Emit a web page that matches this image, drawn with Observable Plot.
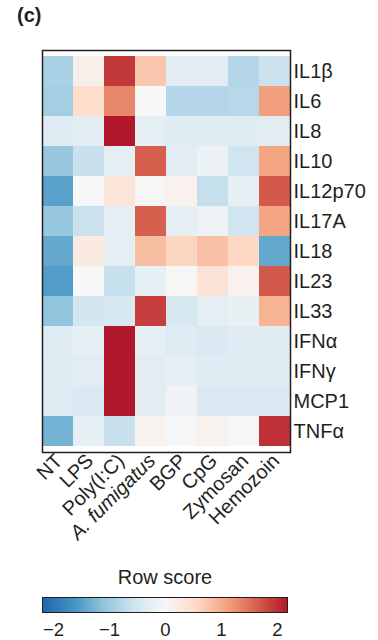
<!DOCTYPE html>
<html>
<head>
<meta charset="utf-8">
<script src="https://cdn.jsdelivr.net/npm/d3@7"></script>
<script src="https://cdn.jsdelivr.net/npm/@observablehq/plot@0.6"></script>
<style>
  html, body { margin: 0; padding: 0; background: #fff; }
  body { width: 378px; height: 640px; position: relative; overflow: hidden;
         font-family: "Liberation Sans", Arial, Helvetica, sans-serif; color: #231f20; }
  #title { position: absolute; left: 17px; top: 4px; font-size: 20px; font-weight: bold; }
  #chart { position: absolute; left: 0; top: 0; }
  #legendTitle { position: absolute; left: 42px; width: 246px; top: 566px; text-align: center; font-size: 20px; }
  #legend { position: absolute; left: 42px; top: 597px; }
  #legend line { display: none; }
  #legendBorder { position: absolute; left: 42px; top: 597px; width: 246px; height: 16px;
                  border: 1.3px solid #231f20; box-sizing: border-box; pointer-events: none; }
</style>
</head>
<body>
<div id="title">(c)</div>
<div id="chart"></div>
<div id="legendTitle">Row score</div>
<div id="legend"></div>
<div id="legendBorder"></div>
<script>
const treatments = ["NT", "LPS", "Poly(I:C)", "A. fumigatus", "BGP", "CpG", "Zymosan", "Hemozoin"];
const cytokines = ["IL1β", "IL6", "IL8", "IL10", "IL12p70", "IL17A", "IL18", "IL23", "IL33", "IFNα", "IFNγ", "MCP1", "TNFα"];
// row scores, one array per cytokine, in treatment order
const IL1b    = [-0.90,  0.15,  1.95,  0.75, -0.30, -0.30, -0.80, -0.60];
const IL6     = [-0.95,  0.50,  1.35,  0.00, -0.80, -0.80, -0.78,  1.15];
const IL8     = [-0.35, -0.30,  2.20, -0.28, -0.35, -0.35, -0.35, -0.30];
const IL10    = [-1.05, -0.62, -0.28,  1.65, -0.30, -0.18, -0.55,  1.10];
const IL12p70 = [-1.50,  0.00,  0.35,  0.02,  0.12, -0.65, -0.25,  1.70];
const IL17A   = [-1.05, -0.60, -0.28,  1.65, -0.28, -0.15, -0.55,  1.10];
const IL18    = [-1.42,  0.25, -0.28,  0.85,  0.60,  0.82,  0.58, -1.42];
const IL23    = [-1.55,  0.00, -0.65, -0.25,  0.02,  0.38,  0.12,  1.70];
const IL33    = [-1.10, -0.50, -0.45,  1.90, -0.45, -0.28, -0.20,  0.95];
const IFNa    = [-0.35, -0.25,  2.20, -0.25, -0.38, -0.42, -0.35, -0.35];
const IFNg    = [-0.37, -0.30,  2.20, -0.30, -0.25, -0.35, -0.35, -0.35];
const MCP1    = [-0.37, -0.40,  2.20, -0.30, -0.12, -0.42, -0.42, -0.42];
const TNFa    = [-1.30, -0.28, -0.62,  0.10, -0.03,  0.10, -0.03,  2.00];
const rows = [IL1b, IL6, IL8, IL10, IL12p70, IL17A, IL18, IL23, IL33, IFNa, IFNg, MCP1, TNFa];
const legendTicks = [-2, -1, 0, 1, 2];
const scoreExtent = [-2.2, 2.2];

const data = [];
rows.forEach((vals, i) => vals.forEach((v, j) => data.push({cytokine: cytokines[i], treatment: treatments[j], value: v})));

const palette = d3.schemeRdBu[9].slice().reverse();
const colorDomain = d3.quantize(d3.interpolateNumber(scoreExtent[0], scoreExtent[1]), palette.length);
const colorOpts = {type: "linear", domain: colorDomain, range: palette, clamp: true};
const font = '"Liberation Sans", Arial, Helvetica, sans-serif';

const chart = Plot.plot({
  width: 378,
  height: 560,
  marginTop: 50,
  marginBottom: 108,
  marginLeft: 42,
  marginRight: 88,
  style: {fontFamily: font, fontSize: "20px", color: "#231f20", background: "transparent"},
  x: {domain: treatments, padding: 0, label: null},
  y: {domain: cytokines, padding: 0, label: null},
  color: colorOpts,
  marks: [
    Plot.cell(data, {x: "treatment", y: "cytokine", fill: "value"}),
    Plot.frame({stroke: "#231f20", strokeWidth: 1.5}),
    Plot.axisY({anchor: "right", tickSize: 0, tickPadding: 3, label: null, fontSize: 20}),
    Plot.axisX({anchor: "bottom", tickSize: 0, tickPadding: 3, tickRotate: -45, label: null, fontSize: 20, dx: 1, dy: 2})
  ]
});
document.getElementById("chart").appendChild(chart);
d3.select(chart).selectAll("text").filter(function() { return this.textContent === "A. fumigatus"; })
  .attr("font-style", "italic");

const legend = Plot.legend({
  color: colorOpts,
  width: 246,
  height: 42,
  marginTop: 0,
  marginBottom: 26,
  marginLeft: 0,
  marginRight: 0,
  ticks: legendTicks,
  tickFormat: d3.format("d"),
  tickSize: 7,
  label: null,
  style: {fontFamily: font, fontSize: "18.5px", color: "#231f20", background: "transparent"}
});
document.getElementById("legend").appendChild(legend);
</script>
</body>
</html>
